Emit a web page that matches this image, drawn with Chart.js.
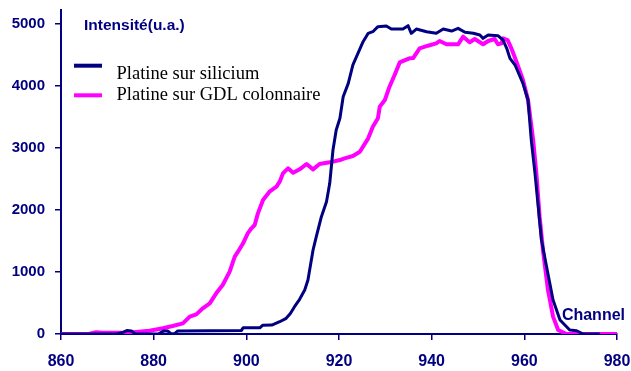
<!DOCTYPE html>
<html>
<head>
<meta charset="utf-8">
<script src="https://cdn.jsdelivr.net/npm/chart.js@4/dist/chart.umd.min.js"></script>
<style>
  html, body { margin: 0; padding: 0; background: #ffffff; }
  canvas { display: block; }
</style>
</head>
<body>
<canvas id="c" width="631" height="371"></canvas>
<script>
// Spectra: intensity (a.u.) versus channel for the two platinum deposits
const siliciumChannel = [
  860, 866, 872, 873.5, 874.2, 875.2, 876, 881, 882.2, 883, 883.8, 884.6, 885.2,
  898.9, 899.3, 902.9, 903.5, 905.5, 907.2, 908.6, 909.5, 910.4, 911.5, 912.6,
  913.3, 914.4, 915.1, 916.2, 917.3, 918, 918.7, 919.4, 920.2, 920.9, 922, 923,
  925.2, 926.3, 927.3, 928.4, 930.2, 931.3, 933.8, 934.9, 935.6, 936.7, 938.9,
  941, 942.5, 944.3, 945.7, 947.2, 949, 950.4, 951.1, 952.2, 954.3, 955.4,
  956.2, 956.9, 958, 959.7, 960.8, 961.5, 962.3, 963, 963.7, 964.8, 966.2,
  967.7, 969.8, 971.3, 972.7, 976.3
];
const siliciumIntensity = [
  0, 0, 0, 30, 55, 50, 0, 0, 50, 50, 0, 10, 50,
  55, 100, 100, 140, 145, 198, 253, 330, 440, 560, 710,
  871, 1355, 1570, 1892, 2134, 2430, 2968, 3290, 3480, 3828, 4043, 4340,
  4715, 4850, 4876, 4957, 4968, 4919, 4919, 4973, 4850, 4919, 4876,
  4850, 4919, 4887, 4930, 4866, 4850, 4823, 4769, 4823, 4812, 4742,
  4608, 4446, 4339, 4043, 3774, 3129, 2591, 2053, 1516, 1086, 548,
  226, 65, 53, 0, 0
];

const gdlChannel = [
  860, 866, 867.6, 869, 872, 875, 879.1, 882, 884.1, 886.3, 887.8, 889.2, 890.6,
  892.1, 893.5, 894.9, 896.4, 897.5, 898.2, 899.3, 900.3, 901.1, 901.8, 902.5,
  903.6, 905, 906.5, 907.2, 907.9, 909, 910.1, 911.5, 913, 914.4, 915.8, 918,
  920.2, 921.2, 923, 924.5, 926.3, 927.3, 928.4, 928.8, 929.9, 930.9, 932,
  933.1, 935.2, 936, 937.4, 939.2, 941, 941.7, 943.2, 945.7, 946.8, 948.2,
  949.3, 951.1, 952.2, 953.6, 954.3, 955.1, 955.4, 956.4, 957.2, 958.3, 959.7,
  960.8, 961.9, 962.6, 963.3, 964.1, 965.1, 966.2, 967.3, 969.1, 980
];
const gdlIntensity = [
  0, 0, 30, 20, 20, 25, 53, 92, 129, 172, 280, 317, 414,
  495, 656, 790, 1005, 1247, 1328, 1463, 1624, 1705, 1758, 1946,
  2161, 2295, 2376, 2457, 2591, 2672, 2602, 2656, 2742, 2656, 2742, 2769,
  2806, 2833, 2871, 2940, 3156, 3344, 3479, 3667, 3774, 3989, 4177,
  4380, 4446, 4450, 4608, 4650, 4688, 4726, 4673, 4673, 4796, 4705,
  4758, 4673, 4726, 4758, 4673, 4688, 4769, 4742, 4608, 4392, 4097,
  3774, 3129, 2591, 1892, 1301, 710, 280, 65, 0, 0
];

const seriesNames = ['Platine sur silicium', 'Platine sur GDL colonnaire'];
const xTicks = [860, 880, 900, 920, 940, 960, 980];
const yTicks = [0, 1000, 2000, 3000, 4000, 5000];
const yAxisTitle = 'Intensité(u.a.)';
const xAxisTitle = 'Channel';

const NAVY = '#000080';
const MAGENTA = '#ff00ff';

const toPoints = (xs, ys) => xs.map((x, i) => ({ x: x, y: ys[i] }));

// Axis captions and the in-plot legend
const overlay = {
  id: 'overlay',
  afterDraw(chart) {
    const ctx = chart.ctx;
    ctx.save();
    ctx.fillStyle = NAVY;
    ctx.textBaseline = 'alphabetic';
    ctx.font = 'bold 15.5px "Liberation Sans", Arial, sans-serif';
    ctx.textAlign = 'left';
    ctx.fillText(yAxisTitle, 84, 29.5);

    ctx.font = 'bold 16px "Liberation Sans", Arial, sans-serif';
    ctx.textAlign = 'right';
    ctx.fillText(xAxisTitle, 625, 319.5);

    const rows = [
      { markY: 65.7, textY: 78.5 },
      { markY: 95.3, textY: 99.5 }
    ];
    chart.data.datasets.forEach((ds, i) => {
      const r = rows[i];
      ctx.strokeStyle = ds.borderColor;
      ctx.lineWidth = 4;
      ctx.lineCap = 'butt';
      ctx.beginPath();
      ctx.moveTo(74, r.markY);
      ctx.lineTo(102, r.markY);
      ctx.stroke();
      ctx.fillStyle = '#000000';
      ctx.textAlign = 'left';
      ctx.font = '18.5px "Liberation Serif", "Times New Roman", serif';
      ctx.fillText(ds.label, 116.5, r.textY);
    });
    ctx.restore();
  }
};

new Chart(document.getElementById('c'), {
  type: 'line',
  data: {
    datasets: [
      {
        label: seriesNames[0],
        data: toPoints(siliciumChannel, siliciumIntensity),
        borderColor: NAVY,
        borderWidth: 3,
        pointRadius: 0,
        tension: 0,
        borderJoinStyle: 'round',
        fill: false
      },
      {
        label: seriesNames[1],
        data: toPoints(gdlChannel, gdlIntensity),
        borderColor: MAGENTA,
        borderWidth: 4,
        pointRadius: 0,
        tension: 0,
        borderJoinStyle: 'round',
        fill: false
      }
    ]
  },
  options: {
    responsive: false,
    animation: false,
    events: [],
    layout: { padding: { left: 0, right: 14, top: 10, bottom: 0 } },
    plugins: {
      legend: { display: false },
      tooltip: { enabled: false },
      title: { display: false }
    },
    scales: {
      x: {
        type: 'linear',
        min: 860,
        max: 980,
        afterBuildTicks: s => { s.ticks = xTicks.map(v => ({ value: v })); },
        afterFit: s => { s.height = 37; s.paddingLeft = 0; s.paddingRight = 0; },
        border: { display: true, color: NAVY, width: 2 },
        grid: { drawOnChartArea: false, drawTicks: true, tickLength: 6, tickColor: NAVY, lineWidth: 1.5 },
        ticks: {
          color: NAVY,
          padding: 12,
          callback: v => String(v),
          font: { family: '"Liberation Sans", Arial, sans-serif', size: 16, weight: 'bold' },
          maxRotation: 0
        }
      },
      y: {
        type: 'linear',
        min: 0,
        max: 5226,
        afterBuildTicks: s => { s.ticks = yTicks.map(v => ({ value: v })); },
        afterFit: s => { s.width = 61; s.paddingTop = 0; s.paddingBottom = 0; },
        border: { display: true, color: NAVY, width: 2 },
        grid: { drawOnChartArea: false, drawTicks: true, tickLength: 6, tickColor: NAVY, lineWidth: 1.5 },
        ticks: {
          color: NAVY,
          padding: 10,
          callback: v => String(v),
          font: { family: '"Liberation Sans", Arial, sans-serif', size: 15, weight: 'bold' }
        }
      }
    }
  },
  plugins: [overlay]
});
</script>
</body>
</html>
